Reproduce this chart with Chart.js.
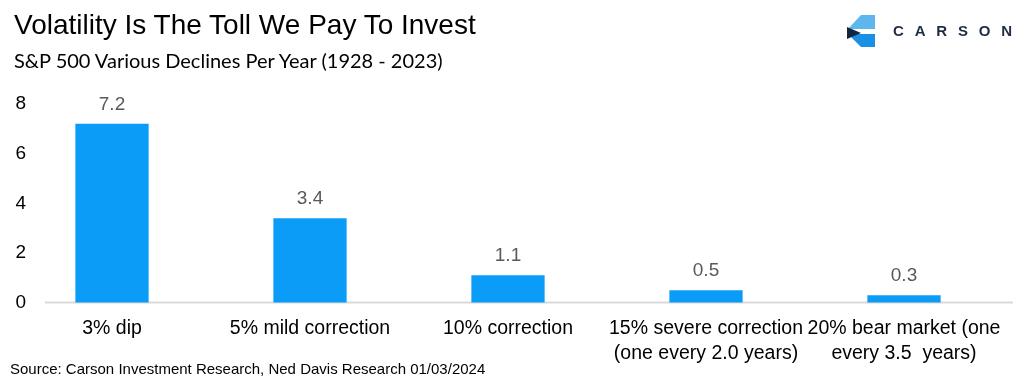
<!DOCTYPE html>
<html>
<head>
<meta charset="utf-8">
<script src="https://cdn.jsdelivr.net/npm/chart.js@4.4.1/dist/chart.umd.min.js"></script>
<style>
  body { margin: 0; background: #fff; }
  #wrap { position: relative; width: 1024px; height: 386px; overflow: hidden; }
  #myChart { position: absolute; left: 0; top: 6px; }
  .title { position: absolute; left: 14px; top: 9px; font: 28px "Liberation Sans", Arial, sans-serif; color: #000; white-space: nowrap; }
  .subtitle { position: absolute; left: 14px; top: 48px; font: 20px Lato, "Noto Sans", sans-serif; color: #000; white-space: nowrap; }
  .source { position: absolute; left: 10px; top: 360px; font: 15px "Liberation Sans", Arial, sans-serif; color: #000; white-space: nowrap; }
  .logo { position: absolute; left: 840px; top: 8px; }
</style>
</head>
<body>
<div id="wrap">
  <canvas id="myChart" width="1024" height="386"></canvas>
  <div class="title">Volatility Is The Toll We Pay To Invest</div>
  <div class="subtitle">S&amp;P 500 Various Declines Per Year (1928 - 2023)</div>
  <div class="source">Source: Carson Investment Research, Ned Davis Research 01/03/2024</div>
  <svg class="logo" width="184" height="48" viewBox="840 8 184 48">
    <polygon points="861,15 875,15 875,29 848,29" fill="#5DB7EE"/>
    <polygon points="848,34 875,34 875,47 861,47" fill="#1A90E4"/>
    <polygon points="847,27 861,33 847,39" fill="#14263F"/>
    <text x="893" y="36" font-family="Liberation Sans, Arial, sans-serif" font-size="15" font-weight="bold" letter-spacing="10.8" fill="#1E2C44">CARSON</text>
  </svg>
</div>
<script>
const categories = [
    '3% dip',
    '5% mild correction',
    '10% correction',
    ['15% severe correction', '(one every 2.0 years)'],
    ['20% bear market (one', 'every 3.5  years)']
];
const declines = [7.2, 3.4, 1.1, 0.5, 0.3];
const yTicks = [0, 2, 4, 6, 8];

const fontFamily = '"Liberation Sans", Arial, sans-serif';

// value labels above each bar, plus the long zero line under the bars
const barLabels = {
    id: 'barLabels',
    beforeDatasetsDraw(chart) {
        const ctx = chart.ctx;
        const y0 = chart.scales.y.getPixelForValue(0);
        ctx.save();
        ctx.strokeStyle = '#D9D9D9';
        ctx.lineWidth = 2;
        ctx.beginPath();
        ctx.moveTo(45, y0);
        ctx.lineTo(1013, y0);
        ctx.stroke();
        ctx.restore();
    },
    afterDatasetsDraw(chart) {
        const ctx = chart.ctx;
        const meta = chart.getDatasetMeta(0);
        ctx.save();
        ctx.font = '19px ' + fontFamily;
        ctx.fillStyle = '#595959';
        ctx.textAlign = 'center';
        ctx.textBaseline = 'bottom';
        meta.data.forEach((bar, i) => {
            ctx.fillText(declines[i].toFixed(1), bar.x, bar.y - 10);
        });
        ctx.restore();
    }
};

const ctx = document.getElementById('myChart').getContext('2d');

let chart = new Chart(ctx, {
    type: 'bar',
    data: {
        labels: categories,
        datasets: [
            {
                data: declines,
                backgroundColor: '#0A9CF6',
                barPercentage: 0.37,
                categoryPercentage: 1,
                clip: false
            }
        ]
    },
    options: {
        responsive: false,
        animation: false,
        layout: {
            padding: { top: 98, left: 0, right: 120, bottom: 0 }
        },
        plugins: {
            legend: { display: false },
            tooltip: { enabled: false }
        },
        scales: {
            x: {
                offset: false,
                afterFit(scale) {
                    scale.height = 70;
                    scale.paddingLeft = 0;
                    scale.paddingRight = 0;
                },
                grid: { display: false },
                border: { display: false },
                ticks: {
                    color: '#000',
                    padding: 6,
                    maxRotation: 0,
                    autoSkip: false,
                    font: { family: fontFamily, size: 19.5, lineHeight: 1.28 }
                }
            },
            y: {
                min: 0,
                max: 8,
                afterBuildTicks(scale) {
                    scale.ticks = yTicks.map(v => ({ value: v }));
                },
                afterFit(scale) {
                    scale.width = 112;
                },
                border: { display: false },
                grid: { display: false },
                ticks: {
                    color: '#000',
                    padding: 78,
                    font: { family: fontFamily, size: 19 }
                }
            }
        }
    },
    plugins: [barLabels]
});
</script>
</body>
</html>
